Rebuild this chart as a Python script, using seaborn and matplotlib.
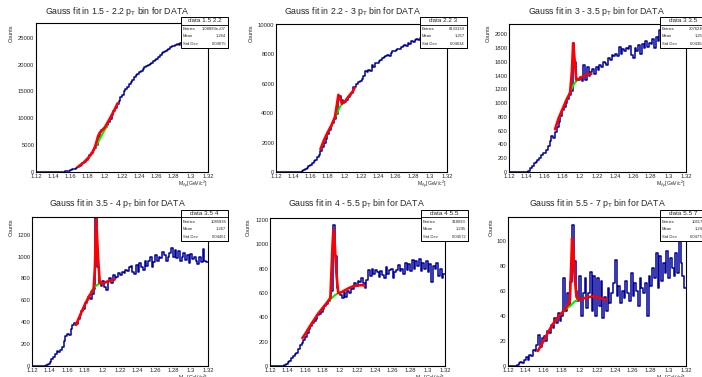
import numpy as np
import pandas as pd
import seaborn as sns
import matplotlib
matplotlib.use("Agg")
import matplotlib.pyplot as plt
from matplotlib.patches import Rectangle
from matplotlib.lines import Line2D
from matplotlib.ticker import MultipleLocator, AutoMinorLocator, FuncFormatter

# Histogram binning: 100 bins from 1.12 to 1.32 GeV/c^2
edges = np.linspace(1.12, 1.32, 101)
centers = 0.5 * (edges[:-1] + edges[1:])

# pT bins
pt_lo = ["1.5", "2.2", "3", "3.5", "4", "5.5"]
pt_hi = ["2.2", "3", "3.5", "4", "5.5", "7"]

# counts per bin
counts_15_22 = [
    0, 0, 0, 0, 0, 0, 0, 0, 0, 0,
    0, 0, 0, 0, 0, 20, 50, 100, 160, 250,
    350, 470, 600, 750, 920, 1100, 1350, 1600, 1900, 2250,
    2650, 3100, 3550, 4050, 4500, 5100, 6600, 7400, 7800, 8000,
    8300, 8700, 9300, 9900, 10600, 11300, 12000, 12700, 13300, 13900,
    14400, 15000, 15500, 15800, 16300, 16800, 17100, 17600, 18000, 18200,
    18600, 18900, 19200, 19500, 19700, 20000, 20200, 20300, 20600, 20900,
    21100, 21500, 21700, 22100, 22300, 22600, 22800, 23000, 23200, 23500,
    23400, 23700, 23900, 23600, 24000, 24100, 24200, 24300, 24400, 24500,
    24600, 24700, 24800, 24900, 25000, 25100, 25200, 25300, 25400, 25500,
]
counts_22_3 = [
    0, 0, 0, 0, 0, 0, 0, 0, 0, 0,
    0, 0, 0, 0, 20, 60, 120, 200, 290, 380,
    480, 600, 720, 850, 1000, 1180, 1450, 1700, 1950, 2250,
    2600, 2850, 3100, 3350, 3600, 3950, 4900, 5200, 4900, 4700,
    4750, 4900, 5100, 5250, 5400, 5750, 5800, 6000, 6150, 6200,
    6350, 6550, 6900, 6800, 6950, 6900, 7250, 7150, 7400, 7450,
    7550, 7650, 7750, 7800, 7900, 7950, 7900, 8100, 8200, 8250,
    8300, 8400, 8350, 8500, 8600, 8650, 8550, 8750, 8700, 8900,
    8850, 9000, 9050, 8950, 9100, 9150, 9200, 9250, 9300, 9250,
    9350, 9400, 9450, 9400, 9500, 9550, 9600, 9550, 9650, 9700,
]
counts_3_35 = [
    0, 0, 0, 0, 0, 0, 0, 0, 0, 0,
    0, 10, 60, 90, 130, 140, 170, 200, 240, 270,
    280, 320, 380, 450, 520, 500, 580, 650, 720, 820,
    900, 950, 1000, 1060, 1120, 1180, 1870, 1600, 1350, 1330,
    1380, 1320, 1550, 1330, 1520, 1400, 1450, 1500, 1430, 1520,
    1480, 1560, 1520, 1600, 1580, 1560, 1650, 1620, 1700, 1680,
    1720, 1690, 1820, 1720, 1780, 1760, 1800, 1780, 1830, 1700,
    1660, 1800, 1760, 1840, 1720, 1860, 1800, 1900, 1820, 1880,
    1860, 1930, 1800, 1960, 1900, 2060, 1950, 2020, 1900, 1820,
    2000, 2050, 1980, 2100, 2020, 2080, 2000, 2120, 2050, 2100,
]
counts_35_4 = [
    0, 0, 0, 0, 0, 0, 0, 0, 5, 20,
    40, 60, 80, 110, 140, 130, 150, 170, 230, 270,
    290, 280, 340, 370, 390, 380, 430, 470, 500, 520,
    580, 600, 630, 610, 660, 700, 1350, 900, 760, 730,
    780, 720, 690, 780, 800, 760, 830, 800, 810, 850,
    830, 860, 850, 880, 870, 900, 910, 860, 840, 920,
    860, 940, 900, 880, 960, 910, 960, 1000, 900, 950,
    1010, 960, 1000, 990, 1040, 1010, 960, 1000, 1030, 1080,
    1000, 1060, 990, 1050, 960, 1000, 1030, 970, 1010, 940,
    1020, 980, 1000, 960, 930, 1000, 950, 1070, 960, 950,
]
counts_4_55 = [
    0, 0, 0, 0, 0, 0, 0, 0, 10, 20,
    30, 45, 65, 80, 100, 110, 140, 170, 190, 210,
    240, 270, 300, 330, 350, 370, 390, 420, 430, 440,
    470, 490, 510, 530, 570, 620, 1160, 900, 640, 600,
    580, 560, 610, 570, 620, 600, 650, 630, 680, 660,
    700, 690, 720, 680, 640, 710, 790, 740, 800, 760,
    790, 770, 730, 780, 750, 720, 810, 760, 790, 800,
    720, 770, 790, 830, 780, 800, 760, 850, 790, 840,
    780, 870, 800, 860, 820, 880, 780, 850, 800, 860,
    770, 840, 690, 820, 800, 850, 740, 800, 720, 760,
]
counts_55_7 = [
    0, 0, 0, 0, 0, 1, 2, 3, 2, 5,
    7, 5, 9, 8, 13, 12, 17, 25, 15, 22,
    24, 20, 28, 26, 33, 30, 38, 34, 42, 36,
    40, 70, 44, 58, 48, 67, 113, 84, 60, 52,
    72, 40, 58, 70, 46, 58, 75, 44, 72, 40,
    70, 48, 68, 38, 55, 44, 62, 50, 58, 66,
    85, 56, 64, 50, 60, 54, 68, 58, 52, 74,
    56, 66, 60, 48, 70, 62, 58, 66, 40, 72,
    64, 78, 70, 90, 62, 88, 68, 82, 74, 92,
    70, 86, 78, 72, 90, 74, 110, 82, 72, 62,
]

# total fit (red) and background (green)
fit_x_15_22 = [1.169, 1.175, 1.18, 1.185, 1.188, 1.19, 1.192, 1.194, 1.197, 1.2, 1.205, 1.21, 1.215]
fit_y_15_22 = [1000, 1700, 2500, 3500, 4400, 5400, 6600, 7300, 7800, 8300, 9700, 11200, 12800]
bkg_x_15_22 = [1.188, 1.191, 1.194, 1.197, 1.2, 1.203]
bkg_y_15_22 = [4400, 5200, 6100, 7000, 7900, 8700]

fit_x_22_3 = [1.172, 1.176, 1.18, 1.185, 1.189, 1.191, 1.193, 1.195, 1.197, 1.2, 1.205, 1.21, 1.212]
fit_y_22_3 = [1550, 2150, 2650, 3200, 3750, 4500, 5250, 5000, 4650, 4750, 5150, 5500, 5750]
bkg_x_22_3 = [1.188, 1.192, 1.195, 1.198]
bkg_y_22_3 = [3600, 4100, 4450, 4700]

fit_x_3_35 = [1.172, 1.176, 1.18, 1.185, 1.189, 1.191, 1.1925, 1.194, 1.196, 1.2, 1.205, 1.21, 1.213]
fit_y_3_35 = [620, 780, 900, 1050, 1150, 1450, 1870, 1650, 1340, 1360, 1400, 1420, 1425]
bkg_x_3_35 = [1.188, 1.191, 1.194, 1.197]
bkg_y_3_35 = [1130, 1220, 1290, 1330]

fit_x_35_4 = [1.17, 1.175, 1.18, 1.185, 1.19, 1.1915, 1.193, 1.195, 1.197, 1.2, 1.205, 1.21, 1.214]
fit_y_35_4 = [375, 470, 560, 640, 700, 900, 1340, 1000, 760, 750, 770, 780, 790]
bkg_x_35_4 = [1.187, 1.19, 1.193, 1.196, 1.199]
bkg_y_35_4 = [680, 710, 735, 750, 760]

fit_x_4_55 = [1.157, 1.16, 1.165, 1.17, 1.175, 1.18, 1.185, 1.189, 1.1915, 1.1925,
              1.194, 1.196, 1.198, 1.2, 1.205, 1.21, 1.215, 1.22, 1.225, 1.228]
fit_y_4_55 = [230, 260, 320, 375, 430, 475, 520, 560, 1000, 1120,
              1000, 750, 600, 600, 620, 640, 655, 662, 665, 660]
bkg_x_4_55 = [1.186, 1.19, 1.194, 1.198]
bkg_y_4_55 = [530, 555, 580, 600]

fit_x_55_7 = [1.1535, 1.16, 1.165, 1.17, 1.175, 1.18, 1.185, 1.1895, 1.191, 1.192,
              1.193, 1.195, 1.197, 1.2, 1.205, 1.21, 1.215, 1.22, 1.225, 1.231]
fit_y_55_7 = [12, 20, 27, 33, 38, 42, 46, 52, 80, 102,
              95, 70, 55, 53, 54, 55, 55.5, 55, 54, 53]
bkg_x_55_7 = [1.186, 1.19, 1.194, 1.198]
bkg_y_55_7 = [46, 48, 51, 53]

# stats box entries
entries = ["1.08893e+07", "8133139", "2076210", "1085836", "918093", "106176"]
means = ["1.264", "1.257", "1.251", "1.267", "1.245", "1.246"]
stds = ["0.04075", "0.04634", "0.04304", "0.04451", "0.04572", "0.04778"]

counts_all = [counts_15_22, counts_22_3, counts_3_35, counts_35_4, counts_4_55, counts_55_7]
fits = [(fit_x_15_22, fit_y_15_22), (fit_x_22_3, fit_y_22_3), (fit_x_3_35, fit_y_3_35),
        (fit_x_35_4, fit_y_35_4), (fit_x_4_55, fit_y_4_55), (fit_x_55_7, fit_y_55_7)]
bkgs = [(bkg_x_15_22, bkg_y_15_22), (bkg_x_22_3, bkg_y_22_3), (bkg_x_3_35, bkg_y_3_35),
        (bkg_x_35_4, bkg_y_35_4), (bkg_x_4_55, bkg_y_4_55), (bkg_x_55_7, bkg_y_55_7)]

# layout in pixels (left, top, right, bottom) of each frame
W, H = 702, 377
frames = [(36, 23, 208, 172), (276, 24, 447, 172), (509, 24, 686, 172),
          (32, 217, 208, 366), (270, 218, 445, 366), (508, 217, 686, 366)]
ymax = [27750, 10070, 2150, 1361, 1216, 119]
ystep = [5000, 2000, 200, 200, 200, 20]
title_pos = [(117, 11), (352, 11), (596, 12), (117, 204), (356, 204), (597, 204)]
ylab_x = [11, 251, 488, 11, 248, 491]
box_pos = [(181, 17), (420, 17), (660, 17), (181, 210), (421, 210), (660, 210)]

BLUE = "#000099"

sns.set_style("white")
plt.rcParams["font.family"] = ["Liberation Sans", "DejaVu Sans"]
plt.rcParams["mathtext.fontset"] = "custom"
plt.rcParams["mathtext.rm"] = "Liberation Sans"
plt.rcParams["mathtext.it"] = "Liberation Sans:italic"

fig = plt.figure(figsize=(W / 100, H / 100), dpi=100)
fig.patch.set_facecolor("white")


def fx(x):
    return x / W


def fy(y):
    return 1 - y / H


fmt = FuncFormatter(lambda v, p: "%g" % round(v, 6))

for i in range(6):
    x0, y0, x1, y1 = frames[i]
    ax = fig.add_axes([fx(x0), fy(y1), (x1 - x0) / W, (y1 - y0) / H])
    df = pd.DataFrame({"m": centers, "n": counts_all[i]})
    sns.histplot(data=df, x="m", weights="n", bins=100, binrange=(1.12, 1.32), element="step",
                 fill=False, color=BLUE, linewidth=1.1, ax=ax)
    sns.lineplot(x=bkgs[i][0], y=bkgs[i][1], color="#00ee00", linewidth=1.5, sort=False,
                 estimator=None, ax=ax)
    sns.lineplot(x=fits[i][0], y=fits[i][1], color="red", linewidth=1.9, sort=False,
                 estimator=None, ax=ax)
    ax.set_xlim(1.12, 1.32)
    ax.set_ylim(0, ymax[i])
    ax.set_xlabel("")
    ax.set_ylabel("")
    ax.xaxis.set_major_locator(MultipleLocator(0.02))
    ax.xaxis.set_minor_locator(AutoMinorLocator(5))
    ax.yaxis.set_major_locator(MultipleLocator(ystep[i]))
    ax.yaxis.set_minor_locator(AutoMinorLocator(5))
    ax.xaxis.set_major_formatter(fmt)
    ax.yaxis.set_major_formatter(fmt)
    ax.tick_params(which="major", direction="in", length=3.5, width=0.6, labelsize=4.2, pad=1.2)
    ax.tick_params(which="minor", direction="in", length=1.8, width=0.5)
    ax.tick_params(top=False, right=False, which="both")
    for s in ax.spines.values():
        s.set_linewidth(0.8)
        s.set_color("black")

    # title
    tx, ty = title_pos[i]
    fig.text(fx(tx), fy(ty), "Gauss fit in %s - %s $\\mathregular{p_{T}}$ bin for DATA" % (pt_lo[i], pt_hi[i]),
             ha="center", va="center", fontsize=6.3)
    # axis labels
    fig.text(fx(ylab_x[i]), fy(y0 + 1), "Counts", rotation=90, ha="center", va="top", fontsize=4)
    fig.text(fx(x1), fy(y1 + 12.5), "M$_{\\Lambda\\gamma}$[GeV/c$^{2}$]", ha="right", va="center",
             fontsize=3.7)

    # stats box
    bx, by = box_pos[i]
    bw, bh = 47, 31
    fig.patches.append(Rectangle((fx(bx + 1), fy(by + bh + 1)), bw / W, bh / H, transform=fig.transFigure,
                                 fc="black", ec="none", zorder=9))
    fig.patches.append(Rectangle((fx(bx), fy(by + bh)), bw / W, bh / H, transform=fig.transFigure,
                                 fc="white", ec="black", lw=0.7, zorder=10))
    fig.add_artist(Line2D([fx(bx), fx(bx + bw)], [fy(by + 7.5), fy(by + 7.5)], color="black", lw=0.6,
                          zorder=11))
    fig.text(fx(bx + bw / 2), fy(by + 4), "data %s %s" % (pt_lo[i], pt_hi[i]), ha="center", va="center",
             fontsize=4.6, zorder=12)
    rows = [("Entries", entries[i]), ("Mean", means[i]), ("Std Dev", stds[i])]
    for k, (lab, val) in enumerate(rows):
        yy = by + 12 + k * 7.3
        fig.text(fx(bx + 2), fy(yy), lab, ha="left", va="center", fontsize=3, zorder=12)
        fig.text(fx(bx + bw - 2), fy(yy), val, ha="right", va="center", fontsize=3, zorder=12)

fig.savefig("out.png", dpi=100)
